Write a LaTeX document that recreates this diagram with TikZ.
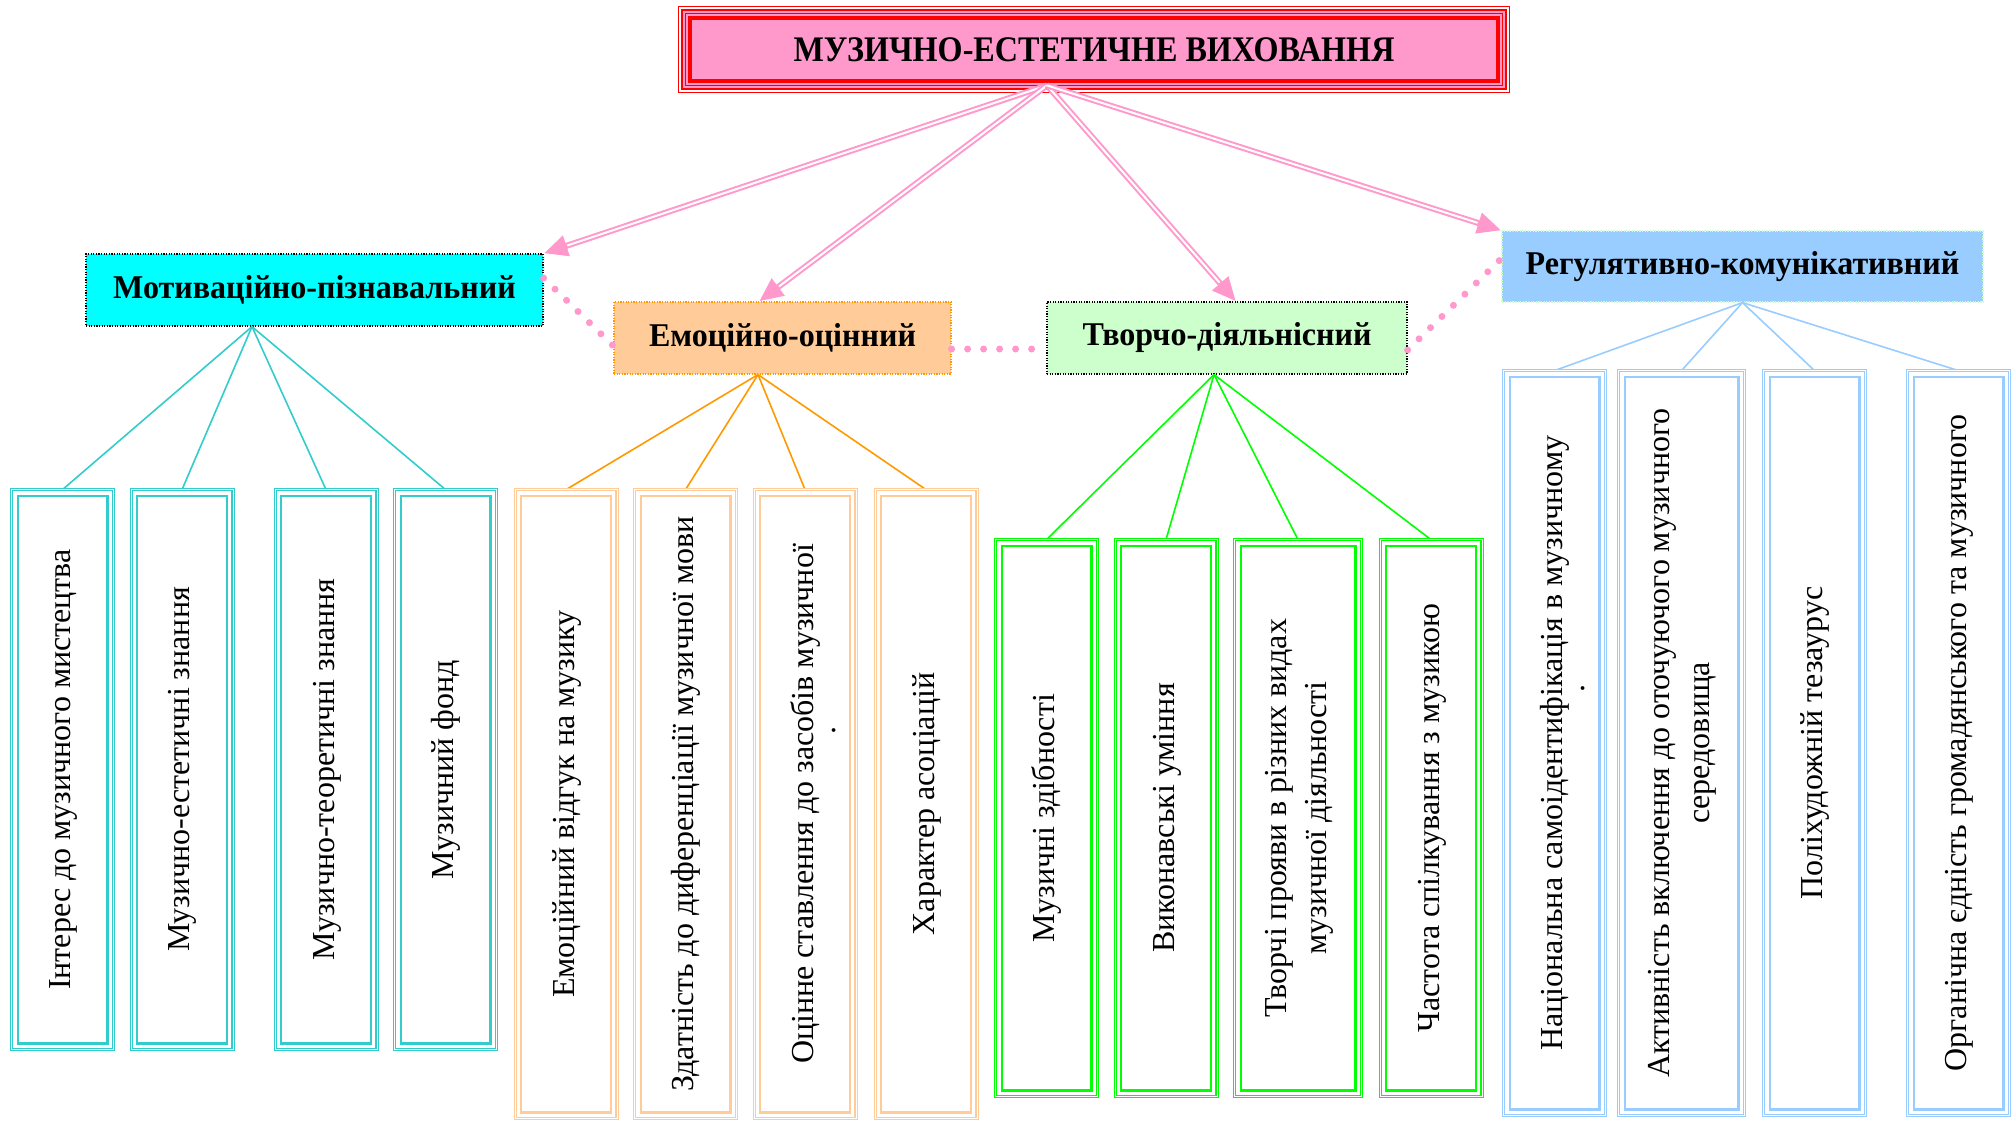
\documentclass[tikz,border=0pt]{standalone}
\usepackage{fontspec}
\usepackage{graphicx}
\setmainfont{Liberation Serif}
\usetikzlibrary{arrows.meta}
\definecolor{pinkA}{HTML}{FF99CC}
\definecolor{redA}{HTML}{FF0000}
\definecolor{cyanF}{HTML}{00FFFF}
\definecolor{turq}{HTML}{33CCCC}
\definecolor{orF}{HTML}{FFCC99}
\definecolor{orL}{HTML}{FF9900}
\definecolor{grF}{HTML}{CCFFCC}
\definecolor{grL}{HTML}{00FF00}
\definecolor{blF}{HTML}{99CCFF}
\newcommand{\rottxt}[1]{\rotatebox{90}{\begin{tabular}{@{}c@{}}#1\end{tabular}}}
\newcommand{\rottxtdot}[2]{\rotatebox{90}{\raisebox{0pt}[\height][6pt]{\begin{tabular}[t]{@{}c@{}}#1\\[-9pt]#2\end{tabular}}}}
\newcommand{\lvtxt}[1]{\scalebox{0.965}[1]{#1}}
\begin{document}
\begin{tikzpicture}[x=0.5pt,y=-0.5pt,
  lvl/.style={rectangle, inner sep=0, minimum height=36pt, font=\fontsize{16.6}{18}\selectfont\bfseries},
  dotb/.style={line width=0.6pt, dash pattern=on 0.6pt off 0.7pt},
  leaf/.style={rectangle, inner sep=0, minimum width=50.5pt, font=\fontsize{16}{20}\selectfont},
  pa/.style={draw=pinkA, line width=3pt, -{Triangle[length=12pt,width=10pt]}},
  wa/.style={draw=white, line width=1pt, shorten >=12.5pt},
  dots/.style={draw=pinkA, line width=3.5pt, line cap=round, dash pattern=on 0pt off 8pt},
  conn/.style={line width=0.8pt}]
\useasboundingbox (0,0) rectangle (2015,1121);

% title
\node[fill=pinkA, minimum width=416pt, minimum height=43.5pt, inner sep=0,
      font=\fontsize{18}{20}\selectfont\bfseries] (title) at (1094,49.5) {\scalebox{0.893}[1]{МУЗИЧНО-ЕСТЕТИЧНЕ ВИХОВАННЯ}};
\foreach \ins/\lw/\col in {0.375/0.75/redA, 1.25/1/white, 2.25/1/redA, 3.875/0.75/redA, 6.125/1.75/redA}
  \draw[\col, line width=\lw pt] ([shift={(\ins pt,-\ins pt)}]title.north west) rectangle ([shift={(-\ins pt,\ins pt)}]title.south east);
\coordinate (apex) at ([xshift=-23.5pt,yshift=4pt]title.south);

% level 2
\node[lvl, fill=cyanF, draw=black, dotb, minimum width=228.5pt] (mot) at (314.5,290) {\lvtxt{Мотиваційно-пізнавальний}};
\node[lvl, fill=orF, draw=orL, dotb, minimum width=168.5pt] (emo) at (782.5,338) {\lvtxt{Емоційно-оцінний}};
\node[lvl, fill=grF, draw=black, dotb, minimum width=180pt] (tvo) at (1227,338) {\lvtxt{Творчо-діяльнісний}};
\node[lvl, fill=blF, draw=grF, dotb, minimum width=240.5pt, minimum height=35.5pt] (reg) at (1742.5,266.5) {\lvtxt{Регулятивно-комунікативний}};

% leaves
\node[leaf, minimum height=279.5pt] (c1) at (62.5,769.5) {\rottxt{Інтерес до музичного мистецтва}};
\node[leaf, minimum height=279.5pt] (c2) at (182,769.5) {\rottxt{Музично-естетичні знання}};
\node[leaf, minimum height=279.5pt] (c3) at (326,769.5) {\rottxt{Музично-теоретичні знання}};
\node[leaf, minimum height=279.5pt] (c4) at (445.5,769.5) {\rottxt{Музичний фонд}};

\node[leaf, minimum height=314pt] (o1) at (566,804) {\rottxt{Емоційний відгук на музику}};
\node[leaf, minimum height=314pt] (o2) at (685.5,804) {\rottxt{Здатність до диференціації музичної мови}};
\node[leaf, minimum height=314pt] (o3) at (805,804) {\rottxtdot{Оцінне ставлення до засобів музичної}{\hspace*{4.6em}.}};
\node[leaf, minimum height=314pt] (o4) at (926,804) {\rottxt{Характер асоціацій}};

\node[leaf, minimum height=278pt] (g1) at (1046.5,818) {\rottxt{Музичні здібності}};
\node[leaf, minimum height=278pt] (g2) at (1166,818) {\rottxt{Виконавські уміння}};
\node[leaf, minimum height=278pt, minimum width=63pt] (g3) at (1298,818) {\rottxt{Творчі прояви в різних видах\\музичної діяльності}};
\node[leaf, minimum height=278pt] (g4) at (1431,818) {\rottxt{Частота спілкування з музикою}};

\node[leaf, minimum height=372pt] (b1) at (1554.5,743) {\rottxtdot{Національна самоідентифікація в музичному}{\hspace*{3.4em}.}};
\node[leaf, minimum height=372pt, minimum width=62.5pt] (b2) at (1681.5,743) {\rottxt{Активність включення до оточуючого музичного\\середовища}};
\node[leaf, minimum height=372pt] (b3) at (1814.5,743) {\rottxt{Поліхудожній тезаурус}};
\node[leaf, minimum height=372pt] (b4) at (1958.5,743) {\rottxt{Органічна єдність громадянського та музичного}};

% junctions
\coordinate (mj) at ([xshift=-31.25pt]mot.south);
\coordinate (ej) at ([xshift=-12.25pt]emo.south);
\coordinate (tj) at ([xshift=-6.5pt]tvo.south);
\coordinate (rj) at (reg.south);

\foreach \n in {c1,c2,c3,c4} \draw[conn, turq] (mj) -- (\n.north);
\foreach \n in {o1,o2,o3,o4} \draw[conn, orL] (ej) -- (\n.north);
\foreach \n in {g1,g2,g3,g4} \draw[conn, grL] (tj) -- (\n.north);
\foreach \n in {b1,b2,b3,b4} \draw[conn, blF] (rj) -- (\n.north);

% leaf frames
\foreach \n/\c in {c1/turq,c2/turq,c3/turq,c4/turq,o1/orF,o2/orF,o3/orF,o4/orF,g1/grL,g2/grL,g3/grL,g4/grL,b1/blF,b2/blF,b3/blF,b4/blF}{
  \draw[\c, line width=1.6pt] (\n.north west) rectangle (\n.south east);
  \draw[white, line width=0.4pt] (\n.north west) rectangle (\n.south east);
  \draw[\c, line width=1.1pt] ([shift={(3pt,-3pt)}]\n.north west) rectangle ([shift={(-3pt,3pt)}]\n.south east);
}

% dotted links
\draw[dots] ([yshift=6pt]mot.east) -- ([yshift=-4pt]emo.west);
\draw[dots] ([yshift=-5.5pt]emo.east) -- ([yshift=-5.5pt]tvo.west);
\draw[dots] ([yshift=-6pt]tvo.east) -- ([yshift=4pt]reg.west);

% arrows
\draw[pa] (apex) -- (mot.north east);
\draw[wa] (apex) -- (mot.north east);
\draw[pa] (apex) -- ([xshift=-11.75pt]emo.north);
\draw[wa] (apex) -- ([xshift=-11.75pt]emo.north);
\draw[pa] (apex) -- ([xshift=4.5pt]tvo.north);
\draw[wa] (apex) -- ([xshift=4.5pt]tvo.north);
\draw[pa] (apex) -- (reg.north west);
\draw[wa] (apex) -- (reg.north west);
\end{tikzpicture}
\end{document}
